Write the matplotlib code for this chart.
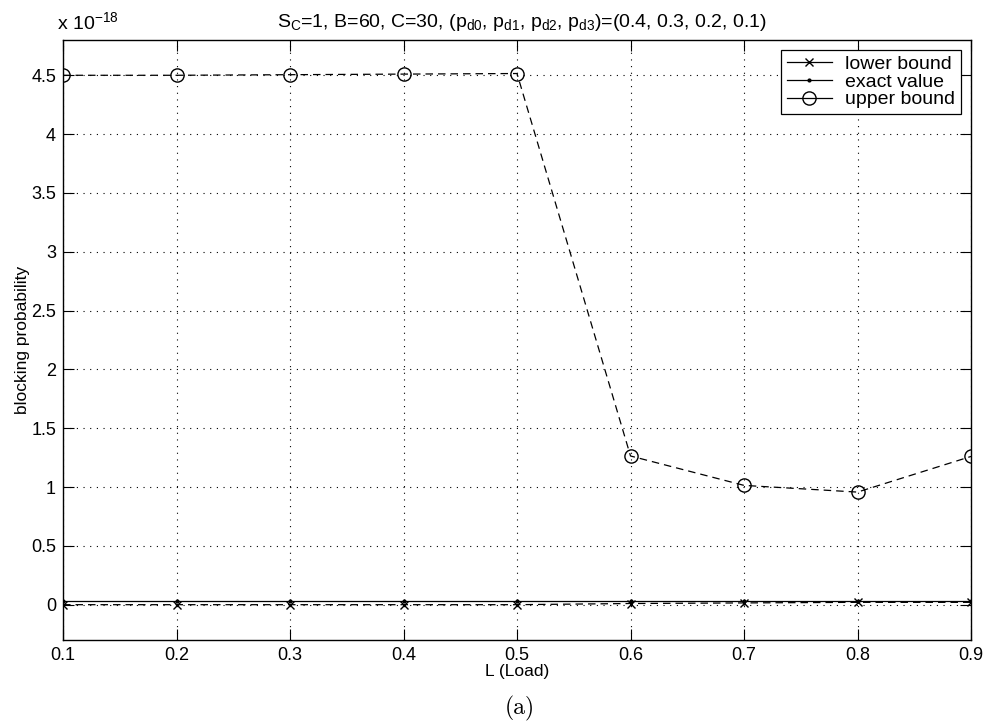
import matplotlib.pyplot as plt
from matplotlib.lines import Line2D

plt.rcParams['font.family'] = ['Liberation Sans', 'DejaVu Sans']
plt.rcParams['mathtext.fontset'] = 'custom'
plt.rcParams['mathtext.rm'] = 'Liberation Sans'
plt.rcParams['mathtext.it'] = 'Liberation Sans'

load = [0.1, 0.2, 0.3, 0.4, 0.5, 0.6, 0.7, 0.8, 0.9]
lower = [0.0, 0.0, 0.0, 0.0, 0.0, 0.01, 0.015, 0.02, 0.02]
exact = [0.035, 0.035, 0.035, 0.035, 0.035, 0.035, 0.035, 0.035, 0.035]
upper = [4.50, 4.50, 4.505, 4.51, 4.515, 1.264, 1.014, 0.957, 1.26]
yticks = [0, 0.5, 1, 1.5, 2, 2.5, 3, 3.5, 4, 4.5]
ylabels = ["0", "0.5", "1", "1.5", "2", "2.5", "3", "3.5", "4", "4.5"]
names = ["lower bound", "exact value", "upper bound"]

fig = plt.figure(figsize=(9.86, 7.27), dpi=100)
ax = fig.add_axes([0.0639, 0.1197, 0.9209, 0.8253])

ax.plot(load, lower, color="k", lw=0.9, marker="x", ms=6, mew=1.0,
        dashes=(6, 4))
ax.plot(load, exact, "-", color="k", lw=0.9, marker=".", ms=4)
ax.plot(load, upper, color="k", lw=0.9, marker="o", ms=9.5, mew=1.0,
        mfc="none", dashes=(6, 4))

ax.set_xlim(0.1, 0.9)
ax.set_ylim(-0.3, 4.8)
ax.set_xticks(load)
ax.set_xticklabels(["%.1f" % v for v in load])
ax.set_yticks(yticks)
ax.set_yticklabels(ylabels)
ax.tick_params(direction="in", length=8, top=True, right=True, labelsize=13,
               pad=5)
ax.grid(True, color="k", linestyle=(0, (1, 5)), linewidth=0.8)
for s in ax.spines.values():
    s.set_linewidth(1.0)

ax.set_xlabel("L (Load)", fontsize=12.5, labelpad=0)
ax.set_ylabel("blocking probability", fontsize=12.5, labelpad=1)
ax.set_title(r"$\mathregular{S_C}$=1, B=60, C=30, "
             r"($\mathregular{p_{d0}}$, $\mathregular{p_{d1}}$, "
             r"$\mathregular{p_{d2}}$, $\mathregular{p_{d3}}$)=(0.4, 0.3, 0.2, 0.1)",
             fontsize=14, pad=9, x=0.505)
fig.text(0.058, 0.955, r"x 10$^{\mathregular{-18}}$", fontsize=14,
         ha="left", va="bottom")
fig.text(0.527, 0.025, "(a)", fontsize=17, family="cmr10", ha="center",
         va="center")

# legend samples drawn as short solid segments, like the original
handles = [Line2D([], [], color="k", lw=0.9, marker="x", ms=6),
           Line2D([], [], color="k", lw=0.9, marker=".", ms=4),
           Line2D([], [], color="k", lw=0.9, marker="o", ms=9.5, mfc="none")]
leg = ax.legend(handles, names, loc="upper right", fontsize=14,
                handlelength=2.3, handletextpad=0.7, borderpad=0.3,
                labelspacing=0.0, fancybox=False, framealpha=1,
                borderaxespad=0.5)
leg.get_frame().set_edgecolor("k")
leg.get_frame().set_linewidth(0.9)

fig.savefig("out.png", dpi=100)
